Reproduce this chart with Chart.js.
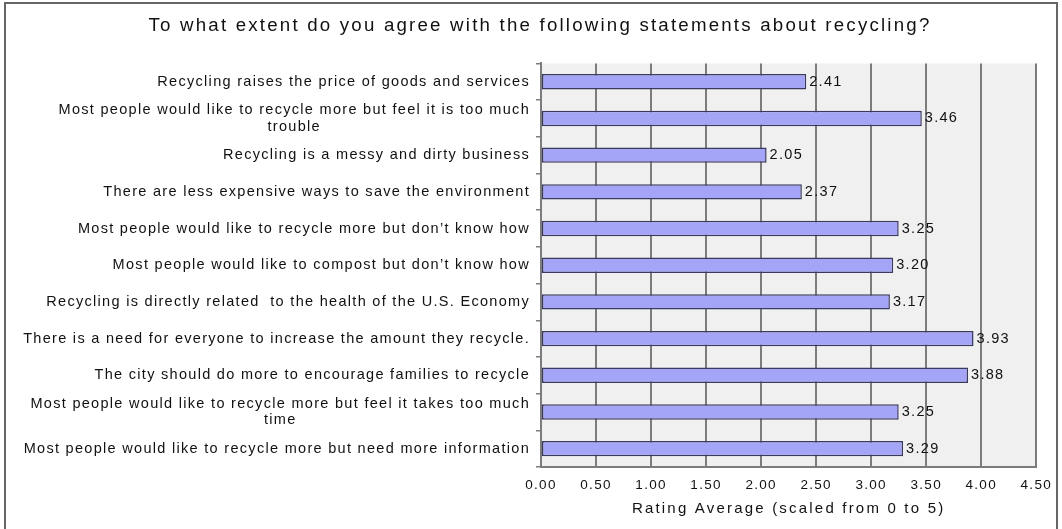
<!DOCTYPE html>
<html>
<head>
<meta charset="utf-8">
<script src="https://cdn.jsdelivr.net/npm/chart.js@4/dist/chart.umd.min.js"></script>
<style>
  body { margin: 0; overflow: hidden; background: #fff; }
  #frame { position: absolute; left: 4px; top: 2px; width: 1050px; height: 560px; border: 2px solid #666; }
  #wrap { position: absolute; left: 0; top: 0; width: 1062px; height: 529px; }
</style>
</head>
<body>
<div id="frame"></div>
<div id="wrap"><canvas id="chart"></canvas></div>
<script>
/*
* Survey: agreement with statements about recycling
*/
var statements = [
	"Recycling raises the price of goods and services",
	["Most people would like to recycle more but feel it is too much", "trouble"],
	"Recycling is a messy and dirty business",
	"There are less expensive ways to save the environment",
	"Most people would like to recycle more but don\u2019t know how",
	"Most people would like to compost but don\u2019t know how",
	"Recycling is directly related  to the health of the U.S. Economy",
	"There is a need for everyone to increase the amount they recycle.",
	"The city should do more to encourage families to recycle",
	["Most people would like to recycle more but feel it takes too much", "time"],
	"Most people would like to recycle more but need more information"
]

var ratingAverage = [2.41, 3.46, 2.05, 2.37, 3.25, 3.20, 3.17, 3.93, 3.88, 3.25, 3.29]

var xTicks = [0, 0.5, 1, 1.5, 2, 2.5, 3, 3.5, 4, 4.5]

var FONT = "'Liberation Sans', Arial, sans-serif"
var LABEL_FONT = {family: FONT, size: 14.5, lineHeight: 1.15}
var LABEL_PAD = 6

// titles are spaced wider than the tick and value labels
var WIDE = '2.2px'
var NARROW = '1.3px'

var spacing = {
	id: 'spacing',
	beforeUpdate: function (chart) { chart.ctx.letterSpacing = NARROW },
	// nudge the chart title a little right of the canvas centre
	afterLayout: function (chart) {
		if (chart.titleBlock) {
			chart.titleBlock.left += 19
			chart.titleBlock.right += 19
		}
	},
	beforeDraw: function (chart) {
		var ctx = chart.ctx, a = chart.chartArea
		ctx.letterSpacing = WIDE
		ctx.save()
		ctx.fillStyle = '#f0f0f0'
		ctx.fillRect(a.left, a.top, a.right - a.left, a.bottom - a.top)
		ctx.restore()
	}
}

// value at the end of each bar; tick labels (z 1) follow with the same spacing
var barValues = {
	id: 'barValues',
	afterDatasetsDraw: function (chart) {
		var ctx = chart.ctx
		var meta = chart.getDatasetMeta(0)
		ctx.letterSpacing = NARROW
		ctx.save()
		ctx.font = '14.5px ' + FONT
		ctx.fillStyle = '#111'
		ctx.textAlign = 'left'
		ctx.textBaseline = 'middle'
		meta.data.forEach(function (bar, i) {
			ctx.fillText(ratingAverage[i].toFixed(2), bar.x + 3, bar.y)
		})
		ctx.restore()
	}
}

// second line of a wrapped label, centred under the first line
var wrapLines = {
	id: 'wrapLines',
	afterDraw: function (chart) {
		var ctx = chart.ctx
		var y = chart.scales.y
		var lh = LABEL_FONT.size * LABEL_FONT.lineHeight
		var right = y.right - y.options.grid.tickLength - LABEL_PAD
		ctx.save()
		ctx.letterSpacing = NARROW
		ctx.font = LABEL_FONT.size + 'px ' + FONT
		ctx.fillStyle = '#111'
		ctx.textAlign = 'center'
		ctx.textBaseline = 'middle'
		statements.forEach(function (s, i) {
			if (!Array.isArray(s)) return
			var w = ctx.measureText(s[0]).width
			ctx.fillText(s[1], right - w / 2, y.getPixelForTick(i) + lh / 2)
		})
		ctx.restore()
	}
}

var chart = new Chart(document.getElementById('chart'), {
	type: 'bar',
	data: {
		labels: statements,
		datasets: [
			{
				data: ratingAverage,
				backgroundColor: '#a5a5f8',
				borderColor: '#3a3a5e',
				borderWidth: 1.5,
				borderSkipped: false,
				barPercentage: 0.42,
				categoryPercentage: 1
			}
		]
	},
	plugins: [spacing, barValues, wrapLines],
	options: {
		indexAxis: 'y',
		responsive: true,
		maintainAspectRatio: false,
		animation: false,
		layout: {padding: {top: 0, right: 20, bottom: 0, left: 0}},
		plugins: {
			legend: {display: false},
			tooltip: {enabled: false},
			title: {
				display: true,
				text: 'To what extent do you agree with the following statements about recycling?',
				color: '#111',
				font: {family: FONT, size: 18.7, weight: 'normal', lineHeight: 1.2},
				padding: {top: 15, bottom: 26}
			}
		},
		scales: {
			x: {
				min: 0,
				max: 4.5,
				afterFit: function (scale) { scale.height = 62 },
				afterBuildTicks: function (scale) {
					scale.ticks = xTicks.map(function (v) { return {value: v} })
				},
				ticks: {
					z: 1,
					color: '#111',
					padding: 10,
					font: {family: FONT, size: 13.5},
					callback: function (v) { return Number(v).toFixed(2) }
				},
				grid: {color: '#7c7c7c', lineWidth: 2, drawTicks: false},
				border: {display: true, color: '#7c7c7c', width: 2},
				title: {
					display: true,
					text: 'Rating Average (scaled from 0 to 5)',
					color: '#111',
					font: {family: FONT, size: 15},
					padding: {top: 0, bottom: 11}
				}
			},
			y: {
				afterFit: function (scale) { scale.width = 541 },
				ticks: {
					z: 1,
					color: '#111',
					padding: LABEL_PAD,
					font: LABEL_FONT,
					autoSkip: false,
					callback: function (v) {
						var s = statements[v]
						return Array.isArray(s) ? [s[0], ''] : s
					}
				},
				grid: {drawOnChartArea: false, offset: true, tickLength: 5, color: '#7c7c7c', lineWidth: 1.5},
				border: {display: true, color: '#7c7c7c', width: 2}
			}
		}
	}
})
</script>
</body>
</html>
